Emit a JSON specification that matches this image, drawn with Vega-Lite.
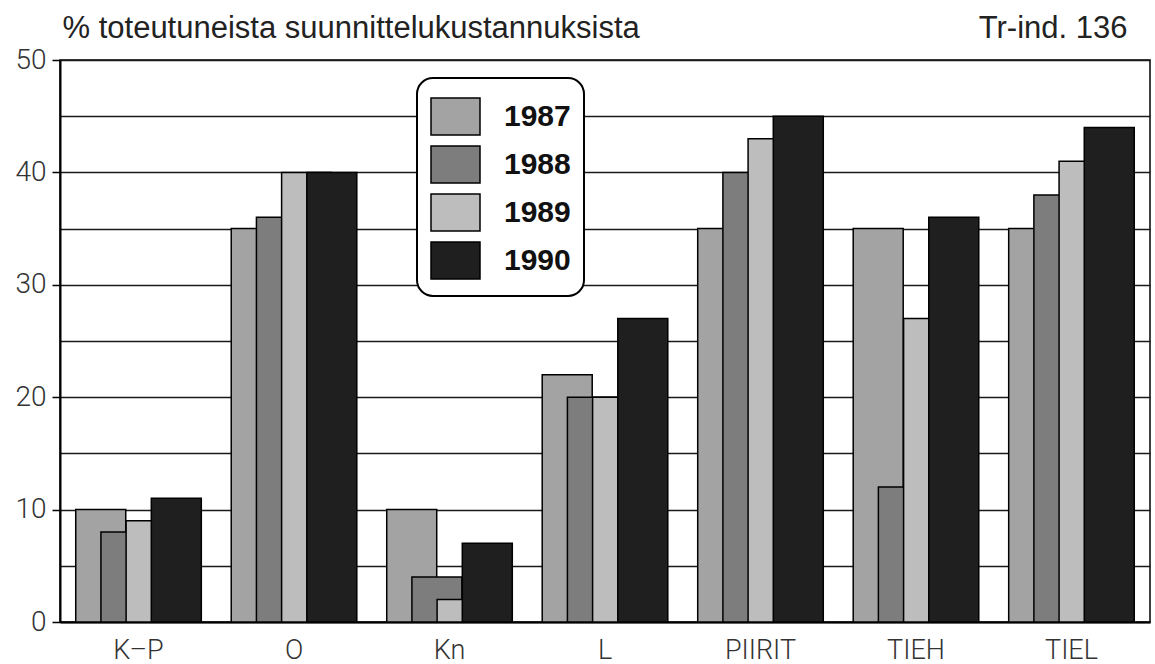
{
  "$schema": "https://vega.github.io/schema/vega-lite/v6.json",
  "width": 1090,
  "height": 562,
  "autosize": {"type": "none"},
  "padding": {"left": 60, "top": 60, "right": 5, "bottom": 42},
  "background": "white",
  "data": {
    "values": [
      {"kohde": "K–P", "vuosi": "1987", "arvo": 10},
      {"kohde": "K–P", "vuosi": "1988", "arvo": 8},
      {"kohde": "K–P", "vuosi": "1989", "arvo": 9},
      {"kohde": "K–P", "vuosi": "1990", "arvo": 11},
      {"kohde": "O", "vuosi": "1987", "arvo": 35},
      {"kohde": "O", "vuosi": "1988", "arvo": 36},
      {"kohde": "O", "vuosi": "1989", "arvo": 40},
      {"kohde": "O", "vuosi": "1990", "arvo": 40},
      {"kohde": "Kn", "vuosi": "1987", "arvo": 10},
      {"kohde": "Kn", "vuosi": "1988", "arvo": 4},
      {"kohde": "Kn", "vuosi": "1989", "arvo": 2},
      {"kohde": "Kn", "vuosi": "1990", "arvo": 7},
      {"kohde": "L", "vuosi": "1987", "arvo": 22},
      {"kohde": "L", "vuosi": "1988", "arvo": 20},
      {"kohde": "L", "vuosi": "1989", "arvo": 20},
      {"kohde": "L", "vuosi": "1990", "arvo": 27},
      {"kohde": "PIIRIT", "vuosi": "1987", "arvo": 35},
      {"kohde": "PIIRIT", "vuosi": "1988", "arvo": 40},
      {"kohde": "PIIRIT", "vuosi": "1989", "arvo": 43},
      {"kohde": "PIIRIT", "vuosi": "1990", "arvo": 45},
      {"kohde": "TIEH", "vuosi": "1987", "arvo": 35},
      {"kohde": "TIEH", "vuosi": "1988", "arvo": 12},
      {"kohde": "TIEH", "vuosi": "1989", "arvo": 27},
      {"kohde": "TIEH", "vuosi": "1990", "arvo": 36},
      {"kohde": "TIEL", "vuosi": "1987", "arvo": 35},
      {"kohde": "TIEL", "vuosi": "1988", "arvo": 38},
      {"kohde": "TIEL", "vuosi": "1989", "arvo": 41},
      {"kohde": "TIEL", "vuosi": "1990", "arvo": 44}
    ]
  },
  "layer": [
    {
      "mark": {"type": "bar", "width": 50, "stroke": "black", "strokeWidth": 1.5, "opacity": 1},
      "encoding": {
        "x": {
          "field": "kohde",
          "type": "nominal",
          "sort": null,
          "scale": {"paddingInner": 0.19, "paddingOuter": 0.1},
          "axis": {
            "orient": "bottom",
            "title": null,
            "ticks": false,
            "grid": false,
            "labelAngle": 0,
            "domainColor": "black",
            "domainWidth": 2,
            "labelFont": "Roboto",
            "labelFontWeight": 300,
            "labelFontSize": 27,
            "labelColor": "#333333",
            "labelPadding": 15
          }
        },
        "xOffset": {
          "field": "vuosi",
          "type": "nominal",
          "scale": {"type": "band", "paddingInner": 0, "paddingOuter": 0.5}
        },
        "y": {
          "field": "arvo",
          "type": "quantitative",
          "scale": {"domain": [0, 50], "nice": false},
          "axis": {
            "title": "% toteutuneista suunnittelukustannuksista",
            "titleAngle": 0,
            "titleX": 2,
            "titleY": -23,
            "titleAlign": "left",
            "titleBaseline": "alphabetic",
            "titleFont": "Liberation Sans",
            "titleFontSize": 31,
            "titleFontWeight": "normal",
            "titleColor": "#222222",
            "values": [0, 5, 10, 15, 20, 25, 30, 35, 40, 45, 50],
            "labelExpr": "datum.value % 10 === 0 ? datum.label : ''",
            "tickOpacity": {"condition": {"test": "datum.value % 10 === 0", "value": 1}, "value": 0},
            "tickSize": 8,
            "tickColor": "black",
            "tickWidth": 1.5,
            "domainColor": "black",
            "domainWidth": 2,
            "grid": true,
            "gridColor": "#1a1a1a",
            "gridWidth": 1.5,
            "labelFont": "Roboto",
            "labelFontWeight": 300,
            "labelFontSize": 28,
            "labelColor": "#333333",
            "labelPadding": 6
          }
        },
        "color": {
          "field": "vuosi",
          "type": "nominal",
          "scale": {
            "domain": ["1987", "1988", "1989", "1990"],
            "range": ["#a3a3a3", "#7d7d7d", "#bdbdbd", "#1f1f1f"]
          },
          "legend": {
            "orient": "none",
            "legendX": 357,
            "legendY": 18,
            "title": null,
            "padding": 13,
            "strokeColor": "black",
            "cornerRadius": 16,
            "fillColor": "white",
            "symbolType": "M-1,-0.76H1V0.76H-1Z",
            "symbolSize": 2401,
            "symbolStrokeColor": "black",
            "symbolStrokeWidth": 1.5,
            "symbolOpacity": 1,
            "labelFont": "Liberation Sans",
            "labelFontSize": 30,
            "labelFontWeight": "bold",
            "labelOffset": 23,
            "labelColor": "#111111",
            "rowPadding": 0,
            "encode": {"legend": {"update": {"strokeWidth": {"value": 2}}}}
          }
        }
      }
    },
    {
      "mark": {"type": "rule", "opacity": 0},
      "encoding": {
        "x": {
          "field": "kohde",
          "type": "nominal",
          "sort": null,
          "axis": {
            "orient": "top",
            "labels": false,
            "ticks": false,
            "domain": false,
            "grid": false,
            "title": "Tr-ind. 136",
            "titleAnchor": "end",
            "titleAlign": "right",
            "titleBaseline": "alphabetic",
            "titleX": 1067,
            "titleY": -23,
            "titleFont": "Liberation Sans",
            "titleFontSize": 31,
            "titleFontWeight": "normal",
            "titleColor": "#222222"
          }
        }
      }
    }
  ],
  "resolve": {"axis": {"x": "independent"}},
  "config": {"view": {"stroke": "black", "strokeWidth": 1.5}}
}
